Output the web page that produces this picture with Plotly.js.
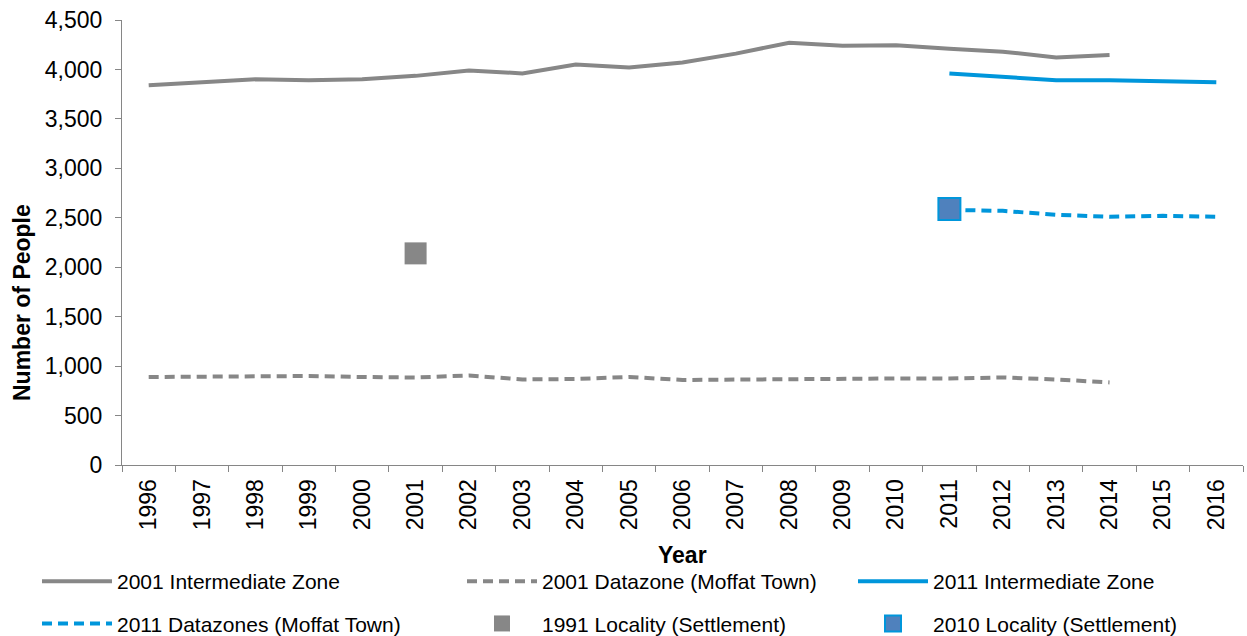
<!DOCTYPE html>
<html><head><meta charset="utf-8">
<script src="https://cdn.plot.ly/plotly-3.0.1.min.js"></script>
<style>html,body{margin:0;padding:0;background:#fff}#chart{width:1247px;height:636px}</style>
</head><body><div id="chart"></div>
<script>
const years = ["1996","1997","1998","1999","2000","2001","2002","2003","2004","2005","2006","2007","2008","2009","2010","2011","2012","2013","2014","2015","2016"];
const iz2001 = [3840,3870,3900,3890,3900,3935,3990,3960,4050,4020,4070,4160,4270,4240,4245,4210,4180,4120,4145,null,null];
const dz2001 = [890,895,905,900,890,885,905,865,870,890,860,865,875,870,875,875,885,865,835,null,null];
const iz2011 = [null,null,null,null,null,null,null,null,null,null,null,null,null,null,null,3960,3920,3890,3890,3880,3870];
const dz2011 = [null,null,null,null,null,null,null,null,null,null,null,null,null,null,null,2580,2570,2530,2510,2520,2510];
const loc1991Year = ["2001"], loc1991 = [2140];
const loc2010Year = ["2011"], loc2010 = [2590];
const xTitle = "Year", yTitle = "Number of People";

const grey = "#878787", blue = "#0096DB";
const traces = [
  {x: years, y: iz2001, name: "2001 Intermediate Zone", mode: "lines", line: {color: grey, width: 4}, legend: "legend", legendgroup: "a"},
  {x: years, y: dz2011, name: "2011 Datazones (Moffat Town)", mode: "lines", line: {color: blue, width: 4, dash: "10px,6px"}, legend: "legend", legendgroup: "b"},
  {x: years, y: dz2001, name: "2001 Datazone (Moffat Town)", mode: "lines", line: {color: grey, width: 4, dash: "10px,6px"}, legend: "legend2", legendgroup: "c"},
  {x: loc1991Year, y: loc1991, name: "1991 Locality (Settlement)", mode: "markers", marker: {symbol: "square", size: 22, color: grey}, legend: "legend2", legendgroup: "d"},
  {x: years, y: iz2011, name: "2011 Intermediate Zone", mode: "lines", line: {color: blue, width: 4}, legend: "legend3", legendgroup: "e"},
  {x: loc2010Year, y: loc2010, name: "2010 Locality (Settlement)", mode: "markers", marker: {symbol: "square", size: 22, color: "#4F81BD", line: {color: blue, width: 2}}, legend: "legend3", legendgroup: "f"}
];
function leg(xpx) {
  return {orientation: "v", xref: "container", yref: "container", x: xpx / 1247, y: 1 - 561 / 636,
    xanchor: "left", yanchor: "top", font: {size: 21}, tracegroupgap: 12, itemwidth: 70,
    bgcolor: "rgba(0,0,0,0)", borderwidth: 0};
}
const layout = {
  width: 1247, height: 636,
  margin: {l: 122, r: 4, t: 20, b: 171, autoexpand: false},
  paper_bgcolor: "#fff", plot_bgcolor: "#fff",
  font: {family: "Liberation Sans, Arial, sans-serif", size: 21, color: "#000"},
  showlegend: true,
  xaxis: {type: "category", categoryorder: "array", categoryarray: years, range: [-0.5, 20.5],
    tickangle: -90, ticks: "outside", tickson: "boundaries", ticklen: 6, tickcolor: "#868686",
    showline: true, linecolor: "#868686", linewidth: 1, showgrid: false, zeroline: false,
    automargin: false, tickfont: {size: 23}, ticklabelstandoff: 4},
  yaxis: {range: [0, 4500], dtick: 500, tickformat: ",", ticks: "outside", ticklen: 6, tickcolor: "#868686",
    showline: true, linecolor: "#868686", linewidth: 1, showgrid: false, zeroline: false,
    automargin: false, tickfont: {size: 23}, ticklabelstandoff: 8},
  annotations: [
    {text: "<b>" + xTitle + "</b>", xref: "paper", yref: "paper", x: 0.5, y: -(555 - 465) / 445,
      xanchor: "center", yanchor: "middle", showarrow: false, font: {size: 23}},
    {text: "<b>" + yTitle + "</b>", xref: "paper", yref: "paper", x: -(122 - 22) / 1121, y: (465 - 303) / 445,
      xanchor: "center", yanchor: "middle", textangle: -90, showarrow: false, font: {size: 23}}
  ],
  legend: leg(37), legend2: leg(462), legend3: leg(853)
};
Plotly.newPlot("chart", traces, layout, {displayModeBar: false});
</script></body></html>
